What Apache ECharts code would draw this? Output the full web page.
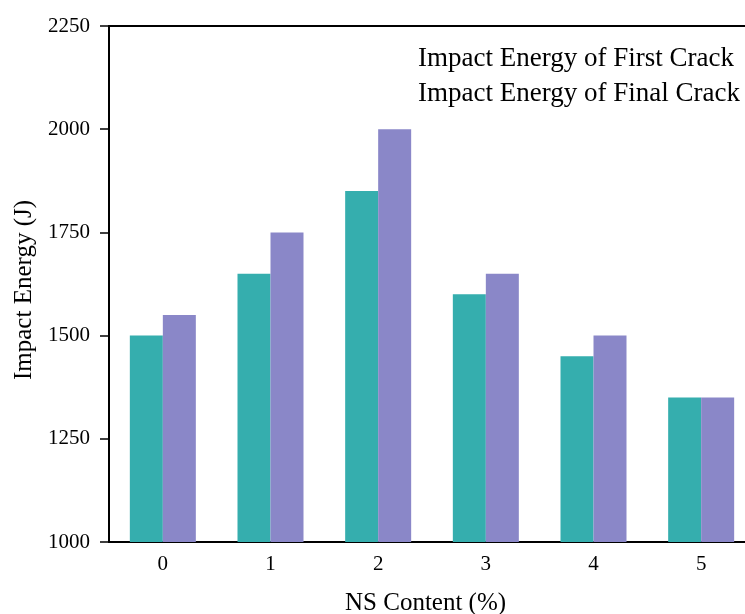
<!DOCTYPE html>
<html><head><meta charset="utf-8">
<script src="https://cdn.jsdelivr.net/npm/echarts@6/dist/echarts.min.js"></script>
<style>html,body{margin:0;padding:0;background:#fff;overflow:hidden;width:745px;height:614px}#c{width:756px;height:614px}</style>
</head><body><div id="c"></div>
<script>
var categories = ['0','1','2','3','4','5'];
var firstCrack = [1500, 1650, 1850, 1600, 1450, 1350];
var finalCrack = [1550, 1750, 2000, 1650, 1500, 1350];
var seriesNames = ['Impact Energy of First Crack', 'Impact Energy of Final Crack'];
var yTicks = [1000, 1250, 1500, 1750, 2000, 2250];

var FONT = '"Liberation Serif", "DejaVu Serif", serif';
var chart = echarts.init(document.getElementById('c'), null, {renderer:'canvas'});
chart.setOption({
  animation: false,
  backgroundColor: '#fff',
  textStyle: {fontFamily: FONT},
  grid: {left: 109, top: 26, width: 646, height: 516, containLabel: false},
  legend: {
    orient: 'vertical', left: 408, top: 40, itemWidth: 0, itemHeight: 0, itemGap: 8,
    icon: 'rect', selectedMode: false,
    textStyle: {fontFamily: FONT, fontSize: 27, lineHeight: 27, color: '#000'},
    data: seriesNames
  },
  graphic: [{
    type: 'text', left: 345, top: 591,
    style: {text: 'NS Content (%)', font: '25px ' + FONT, fill: '#000'}
  }],
  xAxis: [{
    type: 'category', data: categories, position: 'bottom',
    axisLine: {show: true, lineStyle: {color: '#000', width: 2}},
    axisTick: {show: false},
    axisLabel: {fontFamily: FONT, fontSize: 21, color: '#000', margin: 12},
    splitLine: {show: false}
  }, {
    type: 'category', data: categories, position: 'top',
    axisLine: {show: true, lineStyle: {color: '#000', width: 2}},
    axisTick: {show: false}, axisLabel: {show: false}, splitLine: {show: false}
  }],
  yAxis: {
    type: 'value', min: yTicks[0], max: yTicks[yTicks.length-1], interval: 250,
    name: 'Impact Energy (J)', nameLocation: 'middle', nameGap: 69, nameRotate: 90,
    nameTextStyle: {fontFamily: FONT, fontSize: 25, color: '#000', padding: [0, 12, 0, 0]},
    axisLine: {show: true, lineStyle: {color: '#000', width: 2}},
    axisTick: {show: true, inside: false, length: 9, lineStyle: {color: '#000', width: 1.5}},
    axisLabel: {fontFamily: FONT, fontSize: 21, color: '#000', margin: 19,
      formatter: function (v) { return String(v); }},
    splitLine: {show: false}
  },
  series: [{
    name: seriesNames[0], type: 'bar', data: firstCrack, barWidth: 33, barGap: '0%',
    itemStyle: {color: '#35AEAE'}
  }, {
    name: seriesNames[1], type: 'bar', data: finalCrack, barWidth: 33, barGap: '0%',
    itemStyle: {color: '#8A87C8'}
  }]
});
</script></body></html>
